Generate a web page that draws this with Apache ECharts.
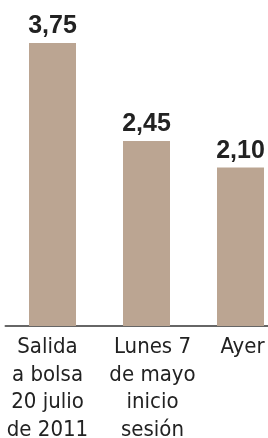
<!DOCTYPE html>
<html>
<head>
<meta charset="utf-8">
<script src="https://cdn.jsdelivr.net/npm/echarts@6/dist/echarts.min.js"></script>
<style>
  html, body { margin: 0; padding: 0; background: #fff; }
  #chart { width: 268px; height: 438px; }
</style>
</head>
<body>
<div id="chart"></div>
<script>
// datos
const categories = ["Salida\na bolsa\n20 julio\nde 2011", "Lunes 7\nde mayo\ninicio\nsesión", "Ayer"];
const values = [3.75, 2.45, 2.10];
const labelShift = [-10, 12, 4];

const myChart = echarts.init(document.getElementById("chart"));

const option = {
  animation: false,
  grid: { left: 5.5, right: -19.5, top: 43, bottom: 112, outerBoundsMode: "none", containLabel: false },
  graphic: [
    {
      type: "text",
      x: 223,
      y: -1,
      style: { text: "(€)", font: "22px 'Liberation Sans'", fill: "#222", verticalAlign: "bottom" },
    },
  ],
  xAxis: {
    type: "category",
    data: categories.map((c, i) => ({
      value: c,
      textStyle: { padding: labelShift[i] < 0 ? [0, -labelShift[i], 0, 0] : [0, 0, 0, labelShift[i]] },
    })),
    axisLine: { show: true, lineStyle: { color: "#666", width: 2 } },
    axisTick: { show: false },
    axisLabel: {
      interval: 0,
      margin: 8,
      color: "#222",
      fontFamily: "'DejaVu Sans Condensed', 'Liberation Sans'",
      fontSize: 22,
      lineHeight: 27.5,
    },
  },
  yAxis: {
    type: "value",
    min: 0,
    max: 3.75,
    show: false,
    splitLine: { show: false },
  },
  series: [
    {
      type: "bar",
      data: values,
      barWidth: 47,
      itemStyle: { color: "#bba592" },
      label: {
        show: true,
        position: "top",
        distance: 4,
        color: "#222",
        fontFamily: "Liberation Sans",
        fontWeight: "bold",
        fontSize: 25,
        formatter: (p) => p.value.toFixed(2).replace(".", ","),
      },
    },
  ],
};

myChart.setOption(option);
</script>
</body>
</html>
